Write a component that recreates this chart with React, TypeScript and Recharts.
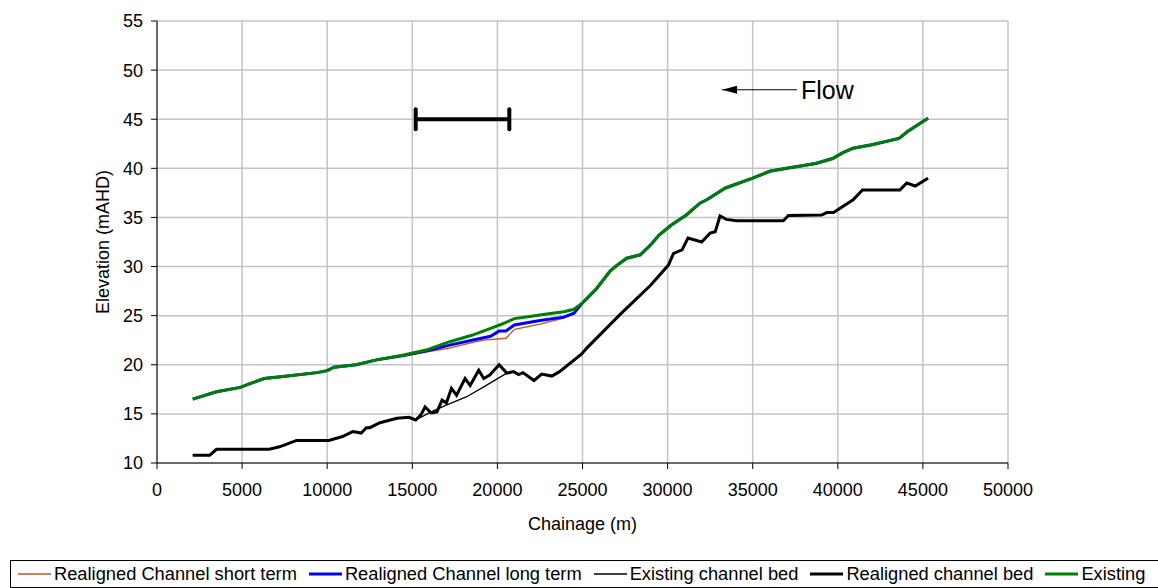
import { LineChart, Line, XAxis, YAxis, CartesianGrid, Legend, ReferenceDot } from 'recharts';

const FONT = '"Liberation Sans", Arial, sans-serif';

// Existing water surface (green)
const existingChainage = [2100, 3500, 4900, 5500, 6300, 7400, 9400, 10000, 10400, 11700, 12900, 14500, 15800, 17200, 18500, 19600, 20200, 21000, 22000, 23000, 23900, 24500, 25000, 25800, 26600, 27000, 27600, 28400, 29000, 29500, 30200, 31100, 31900, 32300, 33400, 35000, 36000, 37000, 38700, 39700, 40300, 40900, 42000, 43600, 44100, 45300];
const existingLevel = [16.5, 17.25, 17.7, 18.1, 18.6, 18.8, 19.2, 19.4, 19.75, 20.0, 20.5, 21.0, 21.5, 22.35, 23.0, 23.7, 24.1, 24.7, 24.95, 25.2, 25.4, 25.65, 26.3, 27.7, 29.5, 30.1, 30.85, 31.2, 32.2, 33.2, 34.2, 35.25, 36.45, 36.8, 38.0, 39.0, 39.7, 40.0, 40.5, 41.0, 41.6, 42.05, 42.4, 43.05, 43.75, 45.1];

// Realigned channel long term (blue), departs from existing 14000-25000
const longTermChainage = [2100, 3500, 4900, 5500, 6300, 7400, 9400, 10000, 10400, 11700, 12900, 14500, 15800, 17200, 18500, 19600, 20100, 20500, 21000, 22500, 23900, 24500, 25000, 25800, 26600, 27000, 27600, 28400, 29000, 29500, 30200, 31100, 31900, 32300, 33400, 35000, 36000, 37000, 38700, 39700, 40300, 40900, 42000, 43600, 44100, 45300];
const longTermLevel = [16.5, 17.25, 17.7, 18.1, 18.6, 18.8, 19.2, 19.4, 19.75, 20.0, 20.5, 20.95, 21.4, 22.0, 22.5, 22.9, 23.45, 23.45, 24.05, 24.5, 24.85, 25.25, 26.3, 27.7, 29.5, 30.1, 30.85, 31.2, 32.2, 33.2, 34.2, 35.25, 36.45, 36.8, 38.0, 39.0, 39.7, 40.0, 40.5, 41.0, 41.6, 42.05, 42.4, 43.05, 43.75, 45.1];

// Realigned channel short term (brown)
const shortTermChainage = [2100, 3500, 4900, 5500, 6300, 7400, 9400, 10000, 10400, 11700, 12900, 14500, 15800, 17200, 18500, 19200, 20500, 21000, 22500, 23900, 24500, 25000, 25800, 26600, 27000, 27600, 28400, 29000, 29500, 30200, 31100, 31900, 32300, 33400, 35000, 36000, 37000, 38700, 39700, 40300, 40900, 42000, 43600, 44100, 45300];
const shortTermLevel = [16.5, 17.25, 17.7, 18.1, 18.6, 18.8, 19.2, 19.4, 19.75, 20.0, 20.5, 20.9, 21.3, 21.7, 22.25, 22.5, 22.7, 23.6, 24.15, 24.75, 25.2, 26.3, 27.7, 29.5, 30.1, 30.85, 31.2, 32.2, 33.2, 34.2, 35.25, 36.45, 36.8, 38.0, 39.0, 39.7, 40.0, 40.5, 41.0, 41.6, 42.05, 42.4, 43.05, 43.75, 45.1];

// Realigned channel bed (thick black)
const bedChainage = [2100, 3100, 3500, 6600, 7200, 8200, 10100, 10900, 11500, 12000, 12300, 12500, 13100, 14100, 14800, 15200, 15500, 15750, 16100, 16450, 16750, 17000, 17300, 17600, 18100, 18400, 18900, 19200, 19550, 20100, 20550, 20950, 21250, 21500, 22150, 22600, 23200, 23650, 24950, 25250, 27200, 29000, 30050, 30350, 30850, 31200, 31600, 32000, 32500, 32800, 33080, 33450, 34050, 36800, 37100, 39050, 39350, 39750, 40900, 41450, 43650, 44050, 44550, 45300];
const bedLevel = [10.8, 10.8, 11.4, 11.4, 11.65, 12.3, 12.3, 12.7, 13.2, 13.05, 13.6, 13.6, 14.1, 14.55, 14.65, 14.38, 14.9, 15.7, 15.1, 15.2, 16.4, 16.1, 17.6, 16.9, 18.6, 17.9, 19.45, 18.6, 18.95, 20.0, 19.15, 19.3, 19.0, 19.2, 18.4, 19.05, 18.85, 19.3, 21.1, 21.7, 25.1, 28.1, 30.15, 31.35, 31.7, 32.9, 32.7, 32.5, 33.4, 33.55, 35.15, 34.8, 34.67, 34.67, 35.2, 35.25, 35.5, 35.5, 36.8, 37.8, 37.8, 38.5, 38.2, 39.0];

// Existing channel bed (thin black) where it differs from realigned bed
const oldBedChainage = [16100, 17000, 18200, 19200];
const oldBedLevel = [15.2, 15.9, 16.75, 17.75];

const xTicks = [0, 5000, 10000, 15000, 20000, 25000, 30000, 35000, 40000, 45000, 50000];
const yTicks = [10, 15, 20, 25, 30, 35, 40, 45, 50, 55];

const scaleBarChainage = [15200, 20700];
const scaleBarLevel = 45;
const flowChainage = [33200, 37600];
const flowLevel = 48;

const legendItems = [
  { name: 'Realigned Channel short term', color: '#c0561e', width: 1.3 },
  { name: 'Realigned Channel long term', color: '#0000ff', width: 3 },
  { name: 'Existing channel bed', color: '#000000', width: 1.3 },
  { name: 'Realigned channel bed', color: '#000000', width: 3 },
  { name: 'Existing', color: '#008000', width: 3 },
];

const toPoints = (xs: number[], ys: number[]) => xs.map((x, i) => ({ x, y: ys[i] }));

const existing = toPoints(existingChainage, existingLevel);
const longTerm = toPoints(longTermChainage, longTermLevel);
const shortTerm = toPoints(shortTermChainage, shortTermLevel);
const realignedBed = toPoints(bedChainage, bedLevel);
const existingBed = [
  ...realignedBed.filter((p) => p.x <= 15200),
  ...toPoints(oldBedChainage, oldBedLevel),
  ...realignedBed.filter((p) => p.x >= 20550),
];
const scaleBar = scaleBarChainage.map((x) => ({ x, y: scaleBarLevel }));
const flowArrow = flowChainage.map((x) => ({ x, y: flowLevel }));

const renderLegend = () => (
  <div
    style={{
      boxSizing: 'border-box',
      height: 28,
      border: '1px solid #000',
      display: 'flex',
      alignItems: 'center',
      paddingLeft: 7,
      fontFamily: FONT,
      fontSize: 18.3,
      color: '#000',
      whiteSpace: 'nowrap',
    }}
  >
    {legendItems.map((item) => (
      <span key={item.name} style={{ display: 'flex', alignItems: 'center', marginRight: 12 }}>
        <svg width={33} height={10} style={{ marginRight: 3 }}>
          <line x1={0} x2={33} y1={5} y2={5} stroke={item.color} strokeWidth={item.width} />
        </svg>
        {item.name}
      </span>
    ))}
  </div>
);

const capDot = (props: any) => (
  <line
    key={`cap-${props.index}`}
    x1={props.cx}
    x2={props.cx}
    y1={props.cy - 10}
    y2={props.cy + 10}
    stroke="#000"
    strokeWidth={4}
    strokeLinecap="round"
  />
);

const arrowDot = (props: any) =>
  props.index === 0 ? (
    <polygon
      key="arrow-head"
      points={`${props.cx},${props.cy} ${props.cx + 15},${props.cy - 4} ${props.cx + 15},${props.cy + 4}`}
      fill="#000"
    />
  ) : (
    <g key="arrow-tail" />
  );

const App = () => {
  return (
    <div>
      <style>{`body{margin:0;overflow:hidden}`}</style>
      <LineChart width={1158} height={588} margin={{ top: 21, right: 150, left: 0, bottom: 0 }} style={{ fontFamily: FONT }}>
        <CartesianGrid stroke="#c4c4c4" strokeWidth={1.5} />
        <XAxis
          dataKey="x"
          type="number"
          domain={[0, 50000]}
          ticks={xTicks}
          interval={0}
          height={97}
          tickSize={6}
          tickMargin={14}
          stroke="#000"
          tick={{ fill: '#000', fontSize: 18, fontFamily: FONT }}
          label={{ value: 'Chainage (m)', position: 'insideBottom', offset: 30, fill: '#000', fontSize: 18, fontFamily: FONT }}
          allowDuplicatedCategory={false}
        />
        <YAxis
          type="number"
          domain={[10, 55]}
          ticks={yTicks}
          interval={0}
          width={157}
          tickSize={6}
          tickMargin={8}
          stroke="#000"
          tick={{ fill: '#000', fontSize: 18, fontFamily: FONT }}
          label={{
            value: 'Elevation (mAHD)',
            angle: -90,
            position: 'insideLeft',
            offset: 103,
            fill: '#000',
            fontSize: 18,
            fontFamily: FONT,
            style: { textAnchor: 'middle' },
          }}
        />
        <Legend verticalAlign="bottom" content={renderLegend} wrapperStyle={{ left: 10, bottom: 0, width: 1160, height: 28 }} />
        <Line data={shortTerm} dataKey="y" stroke="#c0561e" strokeWidth={1.3} dot={false} isAnimationActive={false} />
        <Line data={longTerm} dataKey="y" stroke="#0000ff" strokeWidth={3} dot={false} isAnimationActive={false} />
        <Line data={existingBed} dataKey="y" stroke="#000" strokeWidth={1.3} dot={false} isAnimationActive={false} />
        <Line data={realignedBed} dataKey="y" stroke="#000" strokeWidth={3} dot={false} isAnimationActive={false} />
        <Line data={existing} dataKey="y" stroke="#008000" strokeWidth={3} dot={false} isAnimationActive={false} />
        <Line data={scaleBar} dataKey="y" stroke="#000" strokeWidth={4} dot={capDot} isAnimationActive={false} />
        <Line data={flowArrow} dataKey="y" stroke="#000" strokeWidth={1.2} dot={arrowDot} isAnimationActive={false} />
        <ReferenceDot
          x={flowChainage[1]}
          y={flowLevel}
          r={0}
          stroke="none"
          label={{ value: 'Flow', position: 'right', offset: 4, fill: '#000', fontSize: 25, fontFamily: FONT }}
        />
      </LineChart>
    </div>
  );
};

export default App;
